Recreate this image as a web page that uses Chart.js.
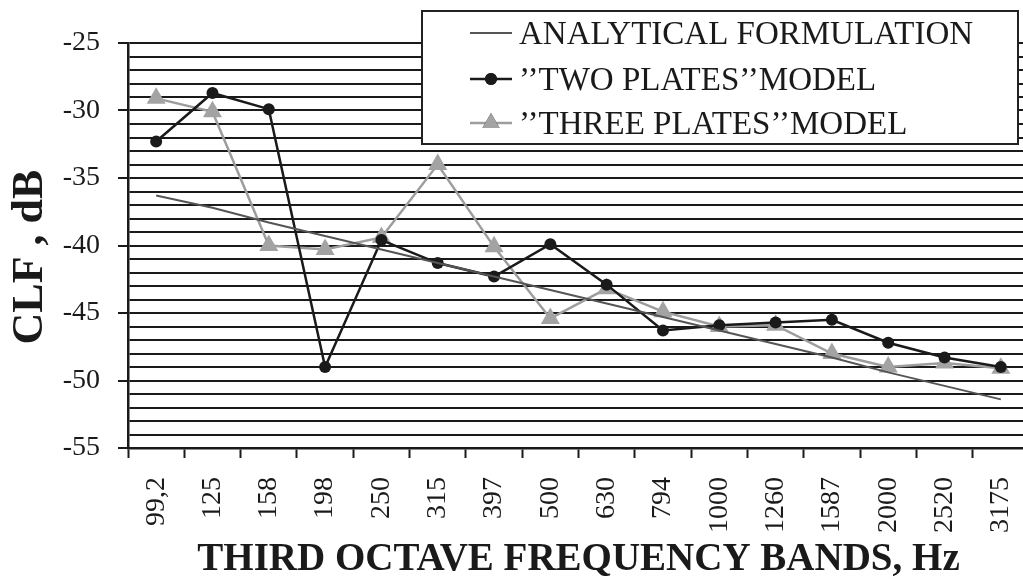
<!DOCTYPE html>
<html>
<head>
<meta charset="utf-8">
<script src="https://cdn.jsdelivr.net/npm/chart.js@4.4.1/dist/chart.umd.min.js"></script>
<style>
  html, body { margin: 0; padding: 0; background: #fff; overflow: hidden; }
  #wrap { width: 1023px; height: 584px; overflow: hidden; }
</style>
</head>
<body>
<div id="wrap"><canvas id="clfChart" width="1040" height="584"></canvas></div>
<script>
// Bandas de terço de oitava e valores
const bands = ['99,2', '125', '158', '198', '250', '315', '397', '500', '630', '794', '1000', '1260', '1587', '2000', '2520', '3175'];
const analytical = [-36.3, -37.2, -38.3, -39.3, -40.3, -41.3, -42.3, -43.3, -44.3, -45.3, -46.3, -47.3, -48.3, -49.4, -50.4, -51.4];
const twoPlates = [-32.3, -28.7, -29.9, -49.0, -39.6, -41.3, -42.3, -39.9, -42.9, -46.3, -45.9, -45.7, -45.5, -47.2, -48.3, -49.0];
const threePlates = [-29.1, -30.1, -40.0, -40.3, -39.4, -34.0, -40.1, -45.4, -43.2, -44.9, -46.0, -45.9, -48.0, -49.0, -48.7, -49.1];
const yTicks = [-55, -50, -45, -40, -35, -30, -25];

const serif = '"Liberation Serif", "Times New Roman", serif';

// Título do eixo Y (um pouco abaixo do centro, como no original)
const yTitle = {
    id: 'yTitle',
    afterDraw(chart) {
        const ctx = chart.ctx;
        ctx.save();
        ctx.translate(31, 257);
        ctx.rotate(-Math.PI / 2);
        ctx.fillStyle = '#1a1a1a';
        ctx.font = 'bold 44px ' + serif;
        ctx.textAlign = 'center';
        ctx.textBaseline = 'middle';
        ctx.fillText('CLF , dB', 0, 0);
        ctx.restore();
    }
};

// Legenda desenhada por cima da área do gráfico
const boxLegend = {
    id: 'boxLegend',
    afterDraw(chart) {
        const ctx = chart.ctx;
        const x0 = 422, y0 = 11, x1 = 1018, y1 = 144;
        ctx.save();
        ctx.fillStyle = '#fff';
        ctx.fillRect(x0, y0, x1 - x0, y1 - y0);
        ctx.strokeStyle = '#222';
        ctx.lineWidth = 2;
        ctx.strokeRect(x0, y0, x1 - x0, y1 - y0);
        const rows = [33, 79, 123];
        chart.data.datasets.forEach((ds, i) => {
            const y = rows[i];
            ctx.strokeStyle = ds.borderColor;
            ctx.lineWidth = ds.borderWidth;
            ctx.beginPath();
            ctx.moveTo(470, y);
            ctx.lineTo(512, y);
            ctx.stroke();
            if (ds.pointRadius > 0) {
                Chart.helpers.drawPoint(ctx, {
                    pointStyle: ds.pointStyle,
                    radius: ds.pointRadius * (ds.pointStyle === 'triangle' ? 0.9 : 1),
                    borderWidth: 0
                }, 491, y);
                ctx.fillStyle = ds.pointBackgroundColor;
                ctx.fill();
            }
            ctx.fillStyle = '#1a1a1a';
            ctx.font = '33px ' + serif;
            ctx.textBaseline = 'middle';
            ctx.textAlign = 'left';
            ctx.fillText(ds.label, 519, y + 2);
        });
        ctx.restore();
    }
};

const ctx = document.getElementById('clfChart').getContext('2d');
new Chart(ctx, {
    type: 'line',
    data: {
        labels: bands,
        datasets: [
            {
                label: 'ANALYTICAL FORMULATION',
                data: analytical,
                borderColor: '#555555',
                borderWidth: 2,
                pointRadius: 0,
                tension: 0
            },
            {
                label: '\u2019\u2019TWO PLATES\u2019\u2019MODEL',
                data: twoPlates,
                borderColor: '#1a1a1a',
                borderWidth: 2.5,
                pointStyle: 'circle',
                pointRadius: 6,
                pointBackgroundColor: '#1a1a1a',
                pointBorderWidth: 0,
                tension: 0
            },
            {
                label: '\u2019\u2019THREE PLATES\u2019\u2019MODEL',
                data: threePlates,
                borderColor: '#9d9d9d',
                borderWidth: 2.5,
                pointStyle: 'triangle',
                pointRadius: 11,
                pointBackgroundColor: '#a3a3a3',
                pointBorderWidth: 0,
                tension: 0
            }
        ]
    },
    options: {
        responsive: false,
        animation: false,
        devicePixelRatio: 1,
        layout: { padding: { top: 43, right: 9, left: 0, bottom: 0 } },
        plugins: {
            legend: { display: false },
            tooltip: { enabled: false }
        },
        scales: {
            x: {
                offset: true,
                grid: {
                    offset: true,
                    drawOnChartArea: false,
                    tickLength: 10,
                    tickWidth: 2,
                    tickColor: '#1a1a1a'
                },
                border: { color: '#1a1a1a', width: 2.5 },
                ticks: {
                    color: '#1a1a1a',
                    font: { family: serif, size: 28 },
                    minRotation: 90,
                    maxRotation: 90,
                    autoSkip: false,
                    padding: 19
                },
                title: {
                    display: true,
                    text: 'THIRD OCTAVE FREQUENCY BANDS, Hz',
                    color: '#1a1a1a',
                    font: { family: serif, size: 39, weight: 'bold' },
                    padding: { top: 0, bottom: 1 }
                },
                afterFit(scale) {
                    scale.height = 136;
                    scale.paddingLeft = 0;
                    scale.paddingRight = 0;
                }
            },
            y: {
                min: -55,
                max: -25,
                grid: {
                    color: '#1a1a1a',
                    lineWidth: 2,
                    tickLength: 10,
                    tickColor: (c) => (c.tick && yTicks.includes(c.tick.value)) ? '#1a1a1a' : 'rgba(0,0,0,0)'
                },
                border: { color: '#1a1a1a', width: 2.5 },
                ticks: {
                    stepSize: 1,
                    autoSkip: false,
                    color: '#1a1a1a',
                    font: { family: serif, size: 28 },
                    padding: 18,
                    callback: (v) => yTicks.includes(v) ? String(v) : ''
                },
                title: { display: false },
                afterFit(scale) { scale.width = 128; }
            }
        }
    },
    plugins: [yTitle, boxLegend]
});
</script>
</body>
</html>
